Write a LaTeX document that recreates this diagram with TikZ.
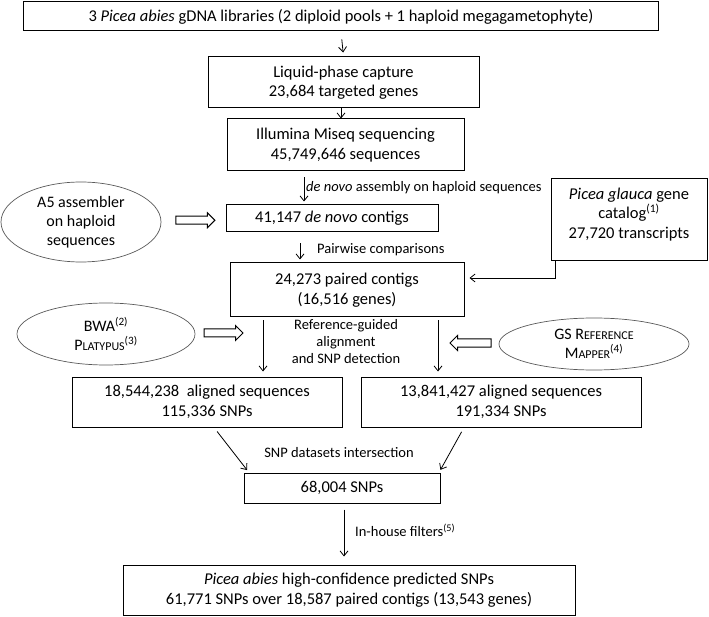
\documentclass[tikz,border=0pt]{standalone}
\usepackage{fontspec}
\setmainfont{Carlito}
\usetikzlibrary{arrows.meta,shapes.geometric,shapes.arrows,calc}
\newcommand\fsc[1]{{\fontsize{12}{12}\selectfont\MakeUppercase{#1}}}

\begin{document}
\begin{tikzpicture}[x=1pt,y=-1pt,font=\fontsize{16.5}{19.5}\selectfont,
  box/.style={draw,line width=1pt,align=center,inner sep=0pt},
  oval/.style={draw=black!65,ellipse,line width=0.7pt,align=center,inner sep=0pt,
    font=\fontsize{16}{19}\selectfont},
  hollow/.style={draw,single arrow,line width=1pt,minimum width=0pt,inner xsep=0pt,
    inner ysep=3.5pt,single arrow head extend=3.5pt},
  link/.style={line width=0.8pt,-{Straight Barb[length=5pt,width=8pt]}},
  lbl/.style={inner sep=0pt,align=center,font=\fontsize{14.5}{17}\selectfont}]

\useasboundingbox (0,0) rectangle (709,617);

% main chain
\node[box,minimum width=635pt,minimum height=29pt] (libs) at (341,16.5)
  {3 \textit{Picea abies} gDNA libraries (2 diploid pools + 1 haploid megagametophyte)};
\node[box,minimum width=271pt,minimum height=51pt] (capture) at (343.5,82.5)
  {Liquid-phase capture\\23,684 targeted genes};
\node[box,minimum width=237pt,minimum height=52pt] (miseq) at (345.5,145)
  {Illumina Miseq sequencing\\45,749,646 sequences};
\node[box,minimum width=212pt,minimum height=27pt] (contigs) at (332,218.5)
  {41,147 \textit{de novo} contigs};
\node[box,minimum width=234pt,minimum height=54pt] (paired) at (347,290)
  {24,273 paired contigs\\(16,516 genes)};
\node[box,minimum width=156pt,minimum height=82pt,text depth=14pt] (catalog) at (629,220)
  {\textit{Picea glauca} gene\\catalog\textsuperscript{(1)}\\27,720 transcripts};

% tools
\node[oval,minimum width=160pt,minimum height=80pt] (a5) at (81,222)
  {A5 assembler\\on haploid\\sequences};
\node[oval,minimum width=178pt,minimum height=62pt] (bwa) at (106,334)
  {BWA\textsuperscript{(2)}\\P\fsc{latypus}\textsuperscript{(3)}};
\node[oval,minimum width=190pt,minimum height=52pt] (gsmap) at (594,344)
  {GS R\fsc{eference}\\M\fsc{apper}\textsuperscript{(4)}};

% results
\node[box,minimum width=270pt,minimum height=50pt] (bwares) at (207,402)
  {18,544,238\ \ aligned sequences\\115,336 SNPs};
\node[box,minimum width=280pt,minimum height=50pt] (gsres) at (501,402)
  {13,841,427 aligned sequences\\191,334 SNPs};
\node[box,minimum width=196pt,minimum height=30pt] (snps) at (342,488)
  {68,004 SNPs};
\node[box,minimum width=452pt,minimum height=50pt] (final) at (349,590)
  {\textit{Picea abies} high-confidence predicted SNPs\\61,771 SNPs over 18,587 paired contigs (13,543 genes)};

% hollow arrows
\node[hollow,minimum height=39pt] (a5arr) at ($(a5.east)!0.5!(contigs.west)$) {};
\node[hollow,minimum height=39pt] (bwaarr) at (221.5,333) {};
\node[hollow,minimum height=41pt,shape border rotate=180] (gsarr) at (472.5,343) {};

% connectors
\draw[link,shorten >=4pt,shorten <=8pt] (libs.south) -- (capture.north);
\draw[link] (capture.south -| 341,0) -- (miseq.north -| 341,0);
\draw[link,shorten >=3pt,shorten <=6pt] (miseq.south -| 304,0) -- (contigs.north -| 304,0);
\draw[link,shorten >=3pt,shorten <=11pt] (contigs.south -| 300,0) -- (paired.north -| 300,0);
\draw[link,shorten >=5pt] (catalog.south -| 555,0) |- ($(paired.east)+(0,-12)$);
\draw[link,shorten >=5pt,shorten <=3pt] (paired.south -| 263,0) -- (bwares.north -| 263,0);
\draw[link,shorten >=5pt,shorten <=3pt] (paired.south -| 438,0) -- (gsres.north -| 438,0);
\draw[link,shorten >=3pt,shorten <=5pt] (bwares.south -| 214,0) -- (snps.north -| 249,0);
\draw[link,shorten >=3pt,shorten <=5pt] (gsres.south -| 464,0) -- (snps.north -| 439,0);
\draw[link,shorten >=8pt,shorten <=6pt] (snps.south -| 344,0) -- (final.north -| 344,0);

% labels
\node[lbl,anchor=west] (denovo) at (306,188) {\textit{de novo} assembly on haploid sequences};
\node[lbl,anchor=west] (pairwise) at (317,250) {Pairwise comparisons};
\node[lbl] (refguided) at (346,342)
  {Reference-guided\\alignment\\and SNP detection};
\node[lbl] (intersect) at (339,453) {SNP datasets intersection};
\node[lbl,anchor=west] (filters) at (355,530) {In-house filters\textsuperscript{(5)}};

\end{tikzpicture}
\end{document}
